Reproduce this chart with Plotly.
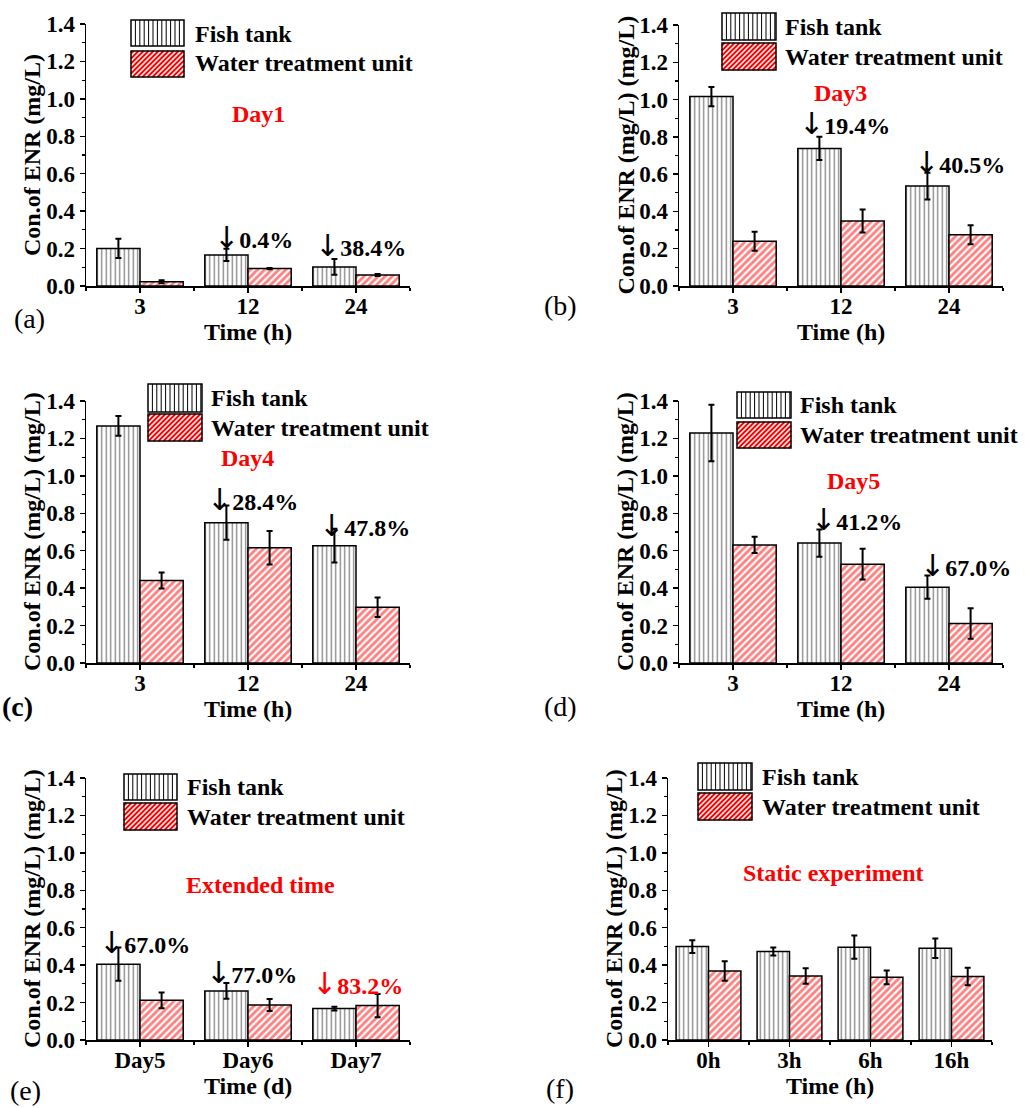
import plotly.graph_objects as go

# ---------------- data ----------------
cats_h = ["3", "12", "24"]
cats_ext = ["Day5", "Day6", "Day7"]
cats_static = ["0h", "3h", "6h", "16h"]

# (a) Day1
fish_a = [0.201, 0.166, 0.102]
fish_a_err = [0.052, 0.033, 0.042]
wtu_a = [0.023, 0.093, 0.059]
wtu_a_err = [0.008, 0.003, 0.005]
# (b) Day3
fish_b = [1.016, 0.738, 0.536]
fish_b_err = [0.052, 0.062, 0.072]
wtu_b = [0.240, 0.349, 0.275]
wtu_b_err = [0.051, 0.062, 0.051]
# (c) Day4
fish_c = [1.267, 0.750, 0.627]
fish_c_err = [0.053, 0.091, 0.090]
wtu_c = [0.441, 0.616, 0.298]
wtu_c_err = [0.043, 0.090, 0.052]
# (d) Day5
fish_d = [1.229, 0.641, 0.405]
fish_d_err = [0.151, 0.073, 0.062]
wtu_d = [0.631, 0.528, 0.211]
wtu_d_err = [0.043, 0.082, 0.082]
# (e) Extended time
fish_e = [0.405, 0.262, 0.168]
fish_e_err = [0.089, 0.042, 0.010]
wtu_e = [0.212, 0.187, 0.184]
wtu_e_err = [0.042, 0.032, 0.062]
# (f) Static experiment
fish_f = [0.499, 0.473, 0.496, 0.490]
fish_f_err = [0.034, 0.021, 0.062, 0.052]
wtu_f = [0.369, 0.342, 0.335, 0.339]
wtu_f_err = [0.052, 0.042, 0.037, 0.047]

series_names = ["Fish tank", "Water treatment unit"]
y_ticks = [0.0, 0.2, 0.4, 0.6, 0.8, 1.0, 1.2, 1.4]

# ---------------- layout helpers ----------------
W, H = 1025, 1108
FONT = "Liberation Serif"
RED = "#FF0000"
ARROW = '<span style="font-family:DejaVu Sans;font-weight:normal;font-size:30px">↓</span>'


def px(x):
    return x / W


def py(y):
    return 1 - y / H


panels = [
    dict(cats=cats_h, fish=fish_a, fe=fish_a_err, wtu=wtu_a, we=wtu_a_err,
         box=(86, 410, 24, 286), ytitle="Con.of ENR (mg/L)", xtitle="Time (h)",
         label="(a)", lpos=(29, 318), lbold=False,
         leg=(131, 184, (20, 46), (51, 77), 193, 34, 63),
         title=("Day1", 258, 114),
         notes=[("0.4%", 212, 238, "black"), ("38.4%", 313, 245, "black")]),
    dict(cats=cats_h, fish=fish_b, fe=fish_b_err, wtu=wtu_b, we=wtu_b_err,
         box=(679, 1003, 25, 286), ytitle="Con.of ENR (mg/L) (mg/L)", xtitle="Time (h)",
         label="(b)", lpos=(560, 306), lbold=False,
         leg=(722, 776, (13, 40), (43, 70), 783, 27, 57),
         title=("Day3", 840, 93),
         notes=[("19.4%", 797, 123, "black"), ("40.5%", 912, 163, "black")]),
    dict(cats=cats_h, fish=fish_c, fe=fish_c_err, wtu=wtu_c, we=wtu_c_err,
         box=(86, 410, 401, 663), ytitle="Con.of ENR (mg/L) (mg/L)", xtitle="Time (h)",
         label="(c)", lpos=(17, 706), lbold=True,
         leg=(148, 202, (384, 412), (414, 441), 209, 398, 428),
         title=("Day4", 247, 458),
         notes=[("28.4%", 205, 500, "black"), ("47.8%", 317, 525, "black")]),
    dict(cats=cats_h, fish=fish_d, fe=fish_d_err, wtu=wtu_d, we=wtu_d_err,
         box=(679, 1003, 401, 663), ytitle="Con.of ENR (mg/L) (mg/L)", xtitle="Time (h)",
         label="(d)", lpos=(560, 706), lbold=False,
         leg=(737, 791, (392, 418), (422, 448), 798, 405, 435),
         title=("Day5", 853, 481),
         notes=[("41.2%", 809, 519, "black"), ("67.0%", 918, 565, "black")]),
    dict(cats=cats_ext, fish=fish_e, fe=fish_e_err, wtu=wtu_e, we=wtu_e_err,
         box=(86, 410, 778, 1040), ytitle="Con.of ENR (mg/L) (mg/L)", xtitle="Time (d)",
         label="(e)", lpos=(25, 1090), lbold=False,
         leg=(124, 177, (774, 800), (803, 830), 185, 787, 817),
         title=("Extended time", 260, 885),
         notes=[("67.0%", 97, 942, "black"), ("77.0%", 204, 972, "black"),
                ("83.2%", 310, 983, RED)]),
    dict(cats=cats_static, fish=fish_f, fe=fish_f_err, wtu=wtu_f, we=wtu_f_err,
         box=(668, 992, 778, 1040), ytitle="Con.of ENR (mg/L) (mg/L)", xtitle="Time (h)",
         label="(f)", lpos=(560, 1088), lbold=False,
         leg=(698, 752, (763, 790), (793, 820), 760, 777, 807),
         title=("Static experiment", 833, 873),
         notes=[]),
]

fig = go.Figure()
layout = dict(
    template="none",
    width=W, height=H, autosize=False,
    margin=dict(l=0, r=0, t=0, b=0, pad=0, autoexpand=False),
    paper_bgcolor="white", plot_bgcolor="white",
    barmode="group", bargap=0.2, bargroupgap=0.0,
    showlegend=False,
    font=dict(family=FONT, color="black"),
)
annotations = []
shapes = []

for i, p in enumerate(panels):
    n = i + 1
    xa = "x" if n == 1 else f"x{n}"
    ya = "y" if n == 1 else f"y{n}"
    xkey = "xaxis" if n == 1 else f"xaxis{n}"
    ykey = "yaxis" if n == 1 else f"yaxis{n}"
    x0, x1, y0, y1 = p["box"]
    xs = list(range(len(p["cats"])))

    fig.add_trace(go.Bar(
        x=xs, y=p["fish"], name=series_names[0], xaxis=xa, yaxis=ya,
        offsetgroup="fish",
        marker=dict(color="white", line=dict(color="black", width=1.5),
                    pattern=dict(shape="|", fgcolor="black", bgcolor="white",
                                 size=4.5, solidity=0.28, fillmode="overlay")),
        error_y=dict(type="data", array=p["fe"], color="black", thickness=2, width=3),
    ))
    fig.add_trace(go.Bar(
        x=xs, y=p["wtu"], name=series_names[1], xaxis=xa, yaxis=ya,
        offsetgroup="wtu",
        marker=dict(color="white", line=dict(color="black", width=1.5),
                    pattern=dict(shape="/", fgcolor=RED, bgcolor="white",
                                 size=5, solidity=0.55, fillmode="overlay")),
        error_y=dict(type="data", array=p["we"], color="black", thickness=2, width=3),
    ))

    layout[xkey] = dict(
        domain=[px(x0), px(x1)], anchor=ya, range=[-0.5, len(xs) - 0.5],
        automargin=False,
        tickmode="array", tickvals=xs, ticktext=p["cats"],
        ticks="outside", ticklen=5, tickwidth=1.5, tickcolor="black",
        ticklabelstandoff=-6,
        minor=dict(tick0=0.5, dtick=1, ticks="outside", ticklen=3,
                   tickwidth=1.2, tickcolor="black", showgrid=False),
        showline=True, linecolor="black", linewidth=1.5,
        showgrid=False, zeroline=False, fixedrange=True,
        tickfont=dict(family=FONT, size=23, color="black", weight="bold"),
    )
    layout[ykey] = dict(
        domain=[py(y1), py(y0)], anchor=xa, range=[0, 1.4],
        automargin=False,
        tickmode="array", tickvals=y_ticks, tickformat=".1f",
        ticks="outside", ticklen=5, tickwidth=1.5, tickcolor="black",
        minor=dict(tick0=0, dtick=0.1, ticks="outside", ticklen=3,
                   tickwidth=1.2, tickcolor="black", showgrid=False),
        showline=True, linecolor="black", linewidth=1.5,
        showgrid=False, zeroline=False, fixedrange=True,
        tickfont=dict(family=FONT, size=23, color="black", weight="bold"),
    )

    # axis titles
    annotations.append(dict(
        text=p["ytitle"], xref="paper", yref="paper",
        x=px(x0 - 54), y=py((y0 + y1) / 2), textangle=-90,
        xanchor="center", yanchor="middle", showarrow=False,
        font=dict(family=FONT, size=24, color="black", weight="bold")))
    annotations.append(dict(
        text=p["xtitle"], xref="paper", yref="paper",
        x=px((x0 + x1) / 2), y=py(y1 + 46),
        xanchor="center", yanchor="middle", showarrow=False,
        font=dict(family=FONT, size=24, color="black", weight="bold")))
    # panel label
    annotations.append(dict(
        text=p["label"], xref="paper", yref="paper",
        x=px(p["lpos"][0]), y=py(p["lpos"][1]),
        xanchor="center", yanchor="middle", showarrow=False,
        font=dict(family=FONT, size=28, color="black",
                  weight="bold" if p["lbold"] else "normal")))
    # red title
    t, tx, ty = p["title"]
    annotations.append(dict(
        text=t, xref="paper", yref="paper", x=px(tx), y=py(ty),
        xanchor="center", yanchor="middle", showarrow=False,
        font=dict(family=FONT, size=24, color=RED, weight="bold")))
    # reduction notes
    for txt, nx, ny, col in p["notes"]:
        annotations.append(dict(
            text=ARROW + txt, xref="paper", yref="paper", x=px(nx), y=py(ny),
            xanchor="left", yanchor="middle", showarrow=False,
            font=dict(family=FONT, size=24, color=col, weight="bold")))

    # legend (custom swatches + labels)
    sx0, sx1, (fy0, fy1), (wy0, wy1), ltx, lty1, lty2 = p["leg"]
    segs = []
    xx = sx0 + 4.4
    while xx < sx1 - 1:
        segs.append(f"M{px(xx)},{py(fy0)}L{px(xx)},{py(fy1)}")
        xx += 4.4
    shapes.append(dict(type="rect", xref="paper", yref="paper",
                       x0=px(sx0), x1=px(sx1), y0=py(fy1), y1=py(fy0),
                       fillcolor="white", line=dict(width=0)))
    shapes.append(dict(type="path", xref="paper", yref="paper", path="".join(segs),
                       line=dict(color="black", width=1)))
    shapes.append(dict(type="rect", xref="paper", yref="paper",
                       x0=px(sx0), x1=px(sx1), y0=py(fy1), y1=py(fy0),
                       fillcolor="rgba(0,0,0,0)", line=dict(color="black", width=1.5)))
    segs = []
    k = sx0 + wy0 + 2.5
    while k < sx1 + wy1:
        ax = max(sx0, k - wy1)
        bx = min(sx1, k - wy0)
        if bx > ax:
            segs.append(f"M{px(ax)},{py(k - ax)}L{px(bx)},{py(k - bx)}")
        k += 5
    shapes.append(dict(type="rect", xref="paper", yref="paper",
                       x0=px(sx0), x1=px(sx1), y0=py(wy1), y1=py(wy0),
                       fillcolor="white", line=dict(width=0)))
    shapes.append(dict(type="path", xref="paper", yref="paper", path="".join(segs),
                       line=dict(color=RED, width=2)))
    shapes.append(dict(type="rect", xref="paper", yref="paper",
                       x0=px(sx0), x1=px(sx1), y0=py(wy1), y1=py(wy0),
                       fillcolor="rgba(0,0,0,0)", line=dict(color="black", width=1.5)))
    for name, ty in zip(series_names, (lty1, lty2)):
        annotations.append(dict(
            text=name, xref="paper", yref="paper", x=px(ltx), y=py(ty),
            xanchor="left", yanchor="middle", showarrow=False,
            font=dict(family=FONT, size=24, color="black", weight="bold")))

layout["annotations"] = annotations
layout["shapes"] = shapes
fig.update_layout(**layout)
fig.write_html("out.html",
               config={"displayModeBar": False, "staticPlot": True},
               post_script="document.body.style.margin='0';document.body.style.padding='0';")
